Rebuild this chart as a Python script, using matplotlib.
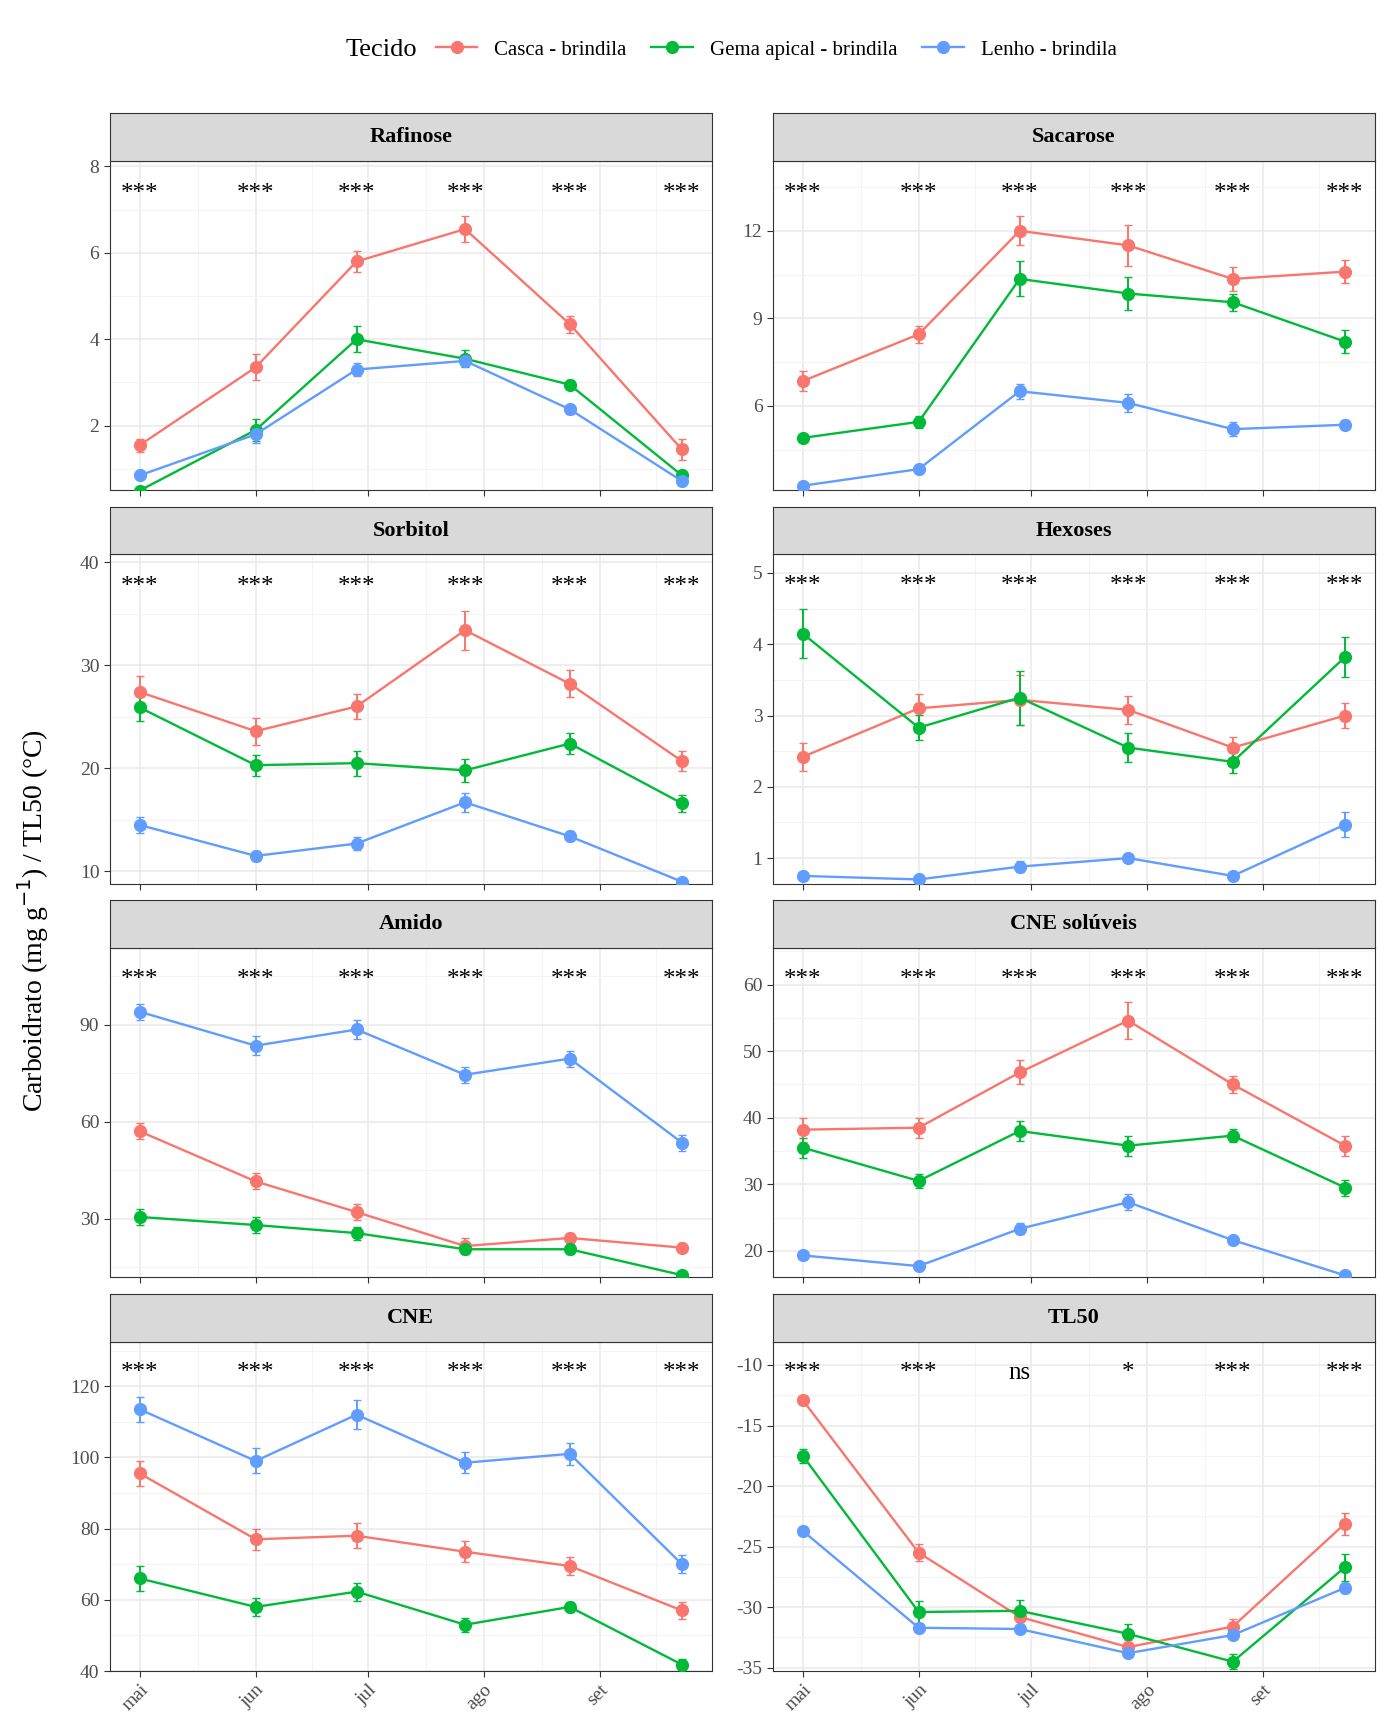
import matplotlib.pyplot as plt
from matplotlib.ticker import MultipleLocator
from matplotlib.lines import Line2D

plt.rcParams['font.family'] = ['Liberation Serif', 'DejaVu Serif']
plt.rcParams['axes.unicode_minus'] = False

COLORS = {'Casca - brindila': '#F8766D', 'Gema apical - brindila': '#00BA38', 'Lenho - brindila': '#619CFF'}
TISSUES = list(COLORS)

# sampling dates as day-of-year
days = [121, 152, 179, 208, 236, 266]
month_days = [121, 152, 182, 213, 244]
month_labels = ['mai', 'jun', 'jul', 'ago', 'set']

panels = ['Rafinose', 'Sacarose', 'Sorbitol', 'Hexoses', 'Amido', 'CNE solúveis', 'CNE', 'TL50']

means = {
    'Rafinose': [[1.55, 3.35, 5.8, 6.55, 4.35, 1.45], [0.5, 1.9, 4.0, 3.55, 2.95, 0.85], [0.85, 1.8, 3.3, 3.5, 2.38, 0.72]],
    'Sacarose': [[6.85, 8.45, 12.0, 11.5, 10.35, 10.6], [4.9, 5.45, 10.35, 9.85, 9.55, 8.2], [3.26, 3.83, 6.5, 6.1, 5.2, 5.35]],
    'Sorbitol': [[27.4, 23.6, 26.0, 33.4, 28.2, 20.7], [25.9, 20.3, 20.5, 19.8, 22.4, 16.6], [14.5, 11.5, 12.7, 16.7, 13.4, 9.0]],
    'Hexoses': [[2.42, 3.1, 3.22, 3.08, 2.55, 3.0], [4.15, 2.83, 3.25, 2.55, 2.35, 3.82], [0.75, 0.7, 0.88, 1.0, 0.75, 1.47]],
    'Amido': [[57, 41.5, 32, 21.5, 24, 21], [30.5, 28, 25.5, 20.5, 20.5, 12.5], [94, 83.5, 88.5, 74.5, 79.5, 53.5]],
    'CNE solúveis': [[38.2, 38.5, 46.8, 54.6, 45, 35.8], [35.5, 30.5, 38, 35.8, 37.3, 29.5], [19.3, 17.7, 23.3, 27.3, 21.6, 16.3]],
    'CNE': [[95.5, 77, 78, 73.5, 69.5, 57], [66, 58, 62.3, 53, 58, 41.8], [113.5, 99, 112, 98.5, 101, 70]],
    'TL50': [[-12.9, -25.5, -30.8, -33.3, -31.6, -23.1], [-17.5, -30.4, -30.3, -32.2, -34.5, -26.7], [-23.7, -31.7, -31.8, -33.8, -32.3, -28.4]],
}
errors = {
    'Rafinose': [[.15, .3, .25, .3, .2, .25], [.05, .25, .3, .2, .1, .05], [.05, .2, .15, .1, .1, .05]],
    'Sacarose': [[.35, .3, .5, .7, .4, .4], [.1, .2, .6, .55, .3, .4], [.05, .1, .25, .3, .25, .15]],
    'Sorbitol': [[1.6, 1.3, 1.2, 1.9, 1.3, 1.0], [1.3, 1.0, 1.2, 1.1, 1.0, .8], [.8, .5, .6, .9, .5, .3]],
    'Hexoses': [[.2, .2, .35, .2, .15, .17], [.35, .18, .38, .2, .15, .28], [.03, .03, .08, .06, .03, .17]],
    'Amido': [[2.5, 2.5, 2.5, 2.5, 1.5, 1.5], [2.5, 2.5, 2, 1.5, 1.5, 1], [2.5, 3, 3, 2.5, 2.5, 2.5]],
    'CNE solúveis': [[1.8, 1.5, 1.8, 2.8, 1.3, 1.5], [1.5, 1, 1.5, 1.5, 1, 1.2], [.5, .5, .8, 1.2, .5, .4]],
    'CNE': [[3.5, 3, 3.5, 3, 2.5, 2.5], [3.5, 2.5, 2.5, 2, 1.5, 1.5], [3.5, 3.5, 4, 3, 3, 2.5]],
    'TL50': [[.3, .7, .7, .6, .6, .9], [.6, .9, .9, .8, .6, 1.1], [.3, .3, .3, .3, .3, .4]],
}
signif = {p: ['***'] * 6 for p in panels}
signif['TL50'] = ['***', '***', 'ns', '*', '***', '***']

# per-panel y limits, star height, major tick step
ylims = {'Rafinose': (0.51, 8.13, 7.36, 2), 'Sacarose': (3.11, 14.4, 13.25, 3),
         'Sorbitol': (8.8, 40.75, 37.6, 10), 'Hexoses': (0.64, 5.26, 4.81, 1),
         'Amido': (11.8, 113.7, 103.7, 30), 'CNE solúveis': (16, 65.5, 60.7, 10),
         'CNE': (40, 132.5, 123.7, 20), 'TL50': (-35.27, -8.08, -10.64, 5)}

# layout measured on a 1250 x 1562 view of the reference
W, H = 1250, 1562
fig = plt.figure(figsize=(13.86, 17.32), dpi=100)
col_x = [(99, 642), (697, 1240)]
row_y = [(145, 442), (500, 797), (855, 1152), (1210, 1507)]
strip_h = 43
xlo, xhi = days[0] - 8, days[-1] + 8

for i, name in enumerate(panels):
    r, c = divmod(i, 2)
    x0, x1 = col_x[c]
    y0, y1 = row_y[r]
    ax = fig.add_axes([x0 / W, 1 - y1 / H, (x1 - x0) / W, (y1 - y0) / H])
    sax = fig.add_axes([x0 / W, 1 - y0 / H, (x1 - x0) / W, strip_h / H])
    sax.set_facecolor('#D9D9D9')
    sax.set_xticks([]); sax.set_yticks([])
    for s in sax.spines.values():
        s.set_color('#333333')
    sax.text(0.5, 0.5, name, ha='center', va='center', fontsize=16, fontweight='bold', transform=sax.transAxes)

    lo, hi, star_y, step = ylims[name]
    for k, t in enumerate(TISSUES):
        ax.errorbar(days, means[name][k], yerr=errors[name][k], color=COLORS[t], marker='o',
                    markersize=8.5, lw=1.7, capsize=3, elinewidth=1.4, zorder=3)
    for d, s in zip(days, signif[name]):
        ax.text(d, star_y, s, ha='center', va='center', fontsize=18)
    ax.set_xlim(xlo, xhi)
    ax.set_ylim(lo, hi)
    ax.yaxis.set_major_locator(MultipleLocator(step))
    ax.yaxis.set_minor_locator(MultipleLocator(step / 2))
    ax.set_xticks(month_days)
    ax.set_xticks([136.5, 167, 197.5, 228.5, 259], minor=True)
    ax.grid(which='major', color='#EBEBEB', lw=1.2)
    ax.grid(which='minor', color='#F4F4F4', lw=0.8)
    ax.set_axisbelow(True)
    ax.tick_params(which='minor', length=0)
    ax.tick_params(which='major', labelsize=14, color='#333333', labelcolor='#4D4D4D', length=4)
    for s in ax.spines.values():
        s.set_color('#333333')
    if r == 3:
        ax.set_xticklabels(month_labels, rotation=45, ha='right', rotation_mode='anchor')
    else:
        ax.set_xticklabels([])

fig.text(30 / W, 1 - 830 / H, 'Carboidrato (mg g$^{-1}$) / TL50 (°C)', rotation=90,
         ha='center', va='center', fontsize=20)

handles = [Line2D([], [], color=COLORS[t], marker='o', markersize=8.5, lw=1.7) for t in TISSUES]
fig.legend(handles, TISSUES, loc='center', bbox_to_anchor=(0.56, 1 - 45 / H),
           ncol=3, frameon=False, fontsize=15, handlelength=2, columnspacing=1.2)
fig.text(312 / W, 1 - 45 / H, 'Tecido', ha='left', va='center', fontsize=19)

fig.savefig('out.png', dpi=100)
